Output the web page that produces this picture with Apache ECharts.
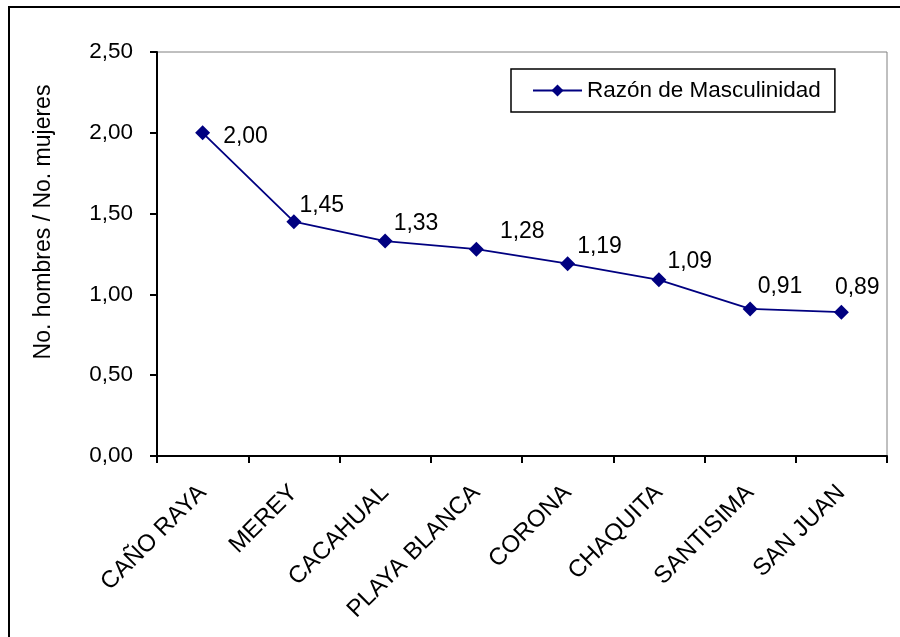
<!DOCTYPE html>
<html>
<head>
<meta charset="utf-8">
<script src="https://cdn.jsdelivr.net/npm/echarts@6/dist/echarts.min.js"></script>
<style>
  html, body { margin: 0; padding: 0; background: #fff; }
  #chart { width: 900px; height: 637px; }
</style>
</head>
<body>
<div id="chart"></div>
<script>
// Sex ratio (men per woman) by locality
const localidades = ['CAÑO RAYA', 'MEREY', 'CACAHUAL', 'PLAYA BLANCA', 'CORONA', 'CHAQUITA', 'SANTISIMA', 'SAN JUAN'];
const razon = [2.00, 1.45, 1.33, 1.28, 1.19, 1.09, 0.91, 0.89];
const yTicks = [0, 0.5, 1.0, 1.5, 2.0, 2.5];
const serieNombre = 'Razón de Masculinidad';
const ejeY = 'No. hombres / No. mujeres';

// Per-point nudges for the value labels (dx from the marker edge, dy from its centre)
const labelNudge = [[13, 4], [-2, -16], [1, -17], [16, -17], [2, -17], [1, -18], [0, -22], [-14, -25]];

const fmt = v => Number(v).toFixed(2).replace('.', ',');
const FONT = "'Liberation Sans', Arial, sans-serif";

const chart = echarts.init(document.getElementById('chart'), null, { renderer: 'canvas' });

const seriesData = razon.map((v, i) => ({
  value: v,
  label: { offset: labelNudge[i] }
}));

chart.setOption({
  animation: false,
  backgroundColor: '#fff',
  textStyle: { fontFamily: FONT },
  graphic: [
    {
      type: 'rect',
      shape: { x: 9, y: 7, width: 1000, height: 1000 },
      style: { fill: 'none', stroke: '#000', lineWidth: 2 },
      silent: true
    },
    {
      type: 'text',
      x: 44, y: 222,
      rotation: Math.PI / 2,
      style: {
        text: ejeY,
        fontFamily: FONT,
        fontSize: 23,
        fill: '#000',
        align: 'center',
        verticalAlign: 'middle'
      },
      silent: true
    }
  ],
  grid: {
    left: 157, top: 52, right: 13, bottom: 181,
    show: true,
    borderColor: '#808080',
    borderWidth: 1,
    backgroundColor: '#fff'
  },
  legend: {
    left: 511, top: 69,
    data: [serieNombre],
    backgroundColor: '#fff',
    borderColor: '#000',
    borderWidth: 1.5,
    padding: [10, 14, 10, 21],
    itemWidth: 49,
    itemHeight: 15,
    textStyle: { fontSize: 22.5, color: '#000', fontFamily: FONT }
  },
  xAxis: {
    type: 'category',
    data: localidades,
    boundaryGap: true,
    axisLine: { lineStyle: { color: '#000', width: 2 } },
    axisTick: { show: true, length: 7, lineStyle: { color: '#000', width: 2 } },
    axisLabel: { rotate: 45, fontSize: 24, margin: 33, color: '#000', fontFamily: FONT, interval: 0 },
    splitLine: { show: false }
  },
  yAxis: {
    type: 'value',
    min: yTicks[0],
    max: yTicks[yTicks.length - 1],
    interval: 0.5,
    axisLine: { show: true, lineStyle: { color: '#000', width: 2 } },
    axisTick: { show: true, length: 7, lineStyle: { color: '#000', width: 2 } },
    axisLabel: { fontSize: 22.5, margin: 24, color: '#000', fontFamily: FONT, formatter: v => fmt(v) },
    splitLine: { show: false }
  },
  series: [{
    name: serieNombre,
    type: 'line',
    data: seriesData,
    symbol: 'diamond',
    symbolSize: 15,
    lineStyle: { color: '#000080', width: 1.8 },
    itemStyle: { color: '#000080' },
    label: {
      show: true,
      position: 'right',
      distance: 0,
      fontSize: 23,
      color: '#000',
      fontFamily: FONT,
      formatter: p => fmt(p.value)
    }
  }]
});
</script>
</body>
</html>
